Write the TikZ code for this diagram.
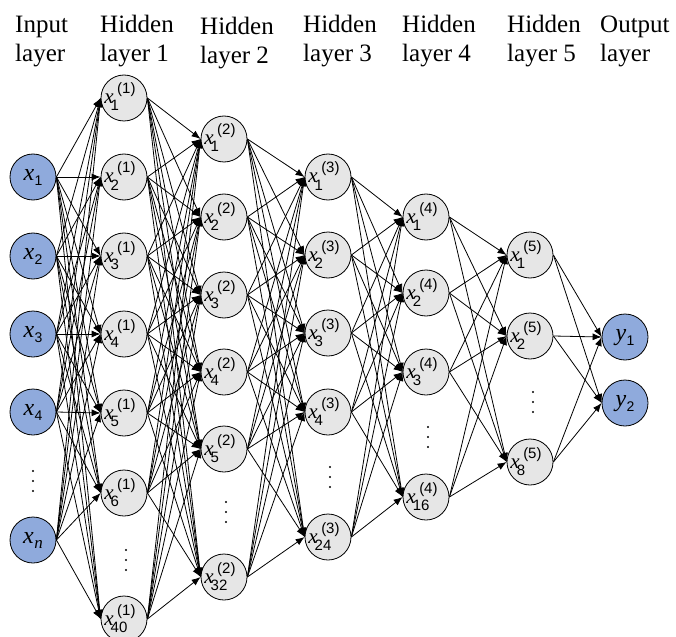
\documentclass[tikz,border=0pt]{standalone}
\usepackage{fontspec}
\setmainfont{Liberation Serif}
\setsansfont{Liberation Sans}
\usetikzlibrary{arrows.meta}
\definecolor{nblue}{RGB}{143,170,220}
\definecolor{ngray}{RGB}{230,230,230}
\newcommand\hlab[2]{\rule[-4pt]{0pt}{20pt}\textit{x}\kern-3pt\raisebox{-7pt}[0pt][0pt]{\rlap{\fontsize{15}{15}\selectfont\sffamily #2}}\kern6.5pt\raisebox{10pt}[0pt][0pt]{\fontsize{15}{15}\selectfont\sffamily (#1)}\kern8pt}
\newcommand\ilab[2]{\rule[-5pt]{0pt}{17pt}\textit{#1}\kern0.5pt\raisebox{-5pt}{\fontsize{14}{14}\selectfont\sffamily #2}}
\newcommand\vdotsat[2]{\foreach \dy in {-10,0,10} {\fill (#1,#2+\dy) circle (1.2pt);}}
\begin{document}
\begin{tikzpicture}[x=1pt,y=-1pt,
  neuron/.style={circle,draw=black,line width=0.8pt,minimum size=46pt,inner sep=0pt},
  inneuron/.style={neuron,fill=nblue,font=\fontsize{24}{24}\selectfont},
  hidneuron/.style={neuron,fill=ngray,font=\fontsize{21}{21}\selectfont},
  hdr/.style={anchor=base west,inner sep=0pt,font=\fontsize{25}{25}\selectfont},
  conn/.style={line width=0.8pt,-{Latex[length=9pt,width=7pt]}}]
\useasboundingbox (0,0) rectangle (676,636);
% headers
\node[hdr] (h0a) at (15,33) {Input};
\node[hdr] (h0b) at (15,62) {layer};
\node[hdr] (h1a) at (100,33) {Hidden};
\node[hdr] (h1b) at (100,62) {layer 1};
\node[hdr] (h2a) at (200,35) {Hidden};
\node[hdr] (h2b) at (200,64) {layer 2};
\node[hdr] (h3a) at (303,33) {Hidden};
\node[hdr] (h3b) at (303,62) {layer 3};
\node[hdr] (h4a) at (402,33) {Hidden};
\node[hdr] (h4b) at (402,62) {layer 4};
\node[hdr] (h5a) at (507,33) {Hidden};
\node[hdr] (h5b) at (507,62) {layer 5};
\node[hdr] (h6a) at (600,33) {Output};
\node[hdr] (h6b) at (600,62) {layer};
% input layer
\node[inneuron] (i1) at (33,177) {\ilab{x}{1}};
\node[inneuron] (i2) at (33,256) {\ilab{x}{2}};
\node[inneuron] (i3) at (33,334) {\ilab{x}{3}};
\node[inneuron] (i4) at (33,412) {\ilab{x}{4}};
\node[inneuron] (i5) at (33,540) {\ilab{x}{\fontsize{17}{17}\selectfont\rmfamily\itshape n}};
\vdotsat{33}{481}
% hidden layer 1
\node[hidneuron] (a1) at (124,98) {\hlab{1}{1}};
\node[hidneuron] (a2) at (124,177) {\hlab{1}{2}};
\node[hidneuron] (a3) at (124,256) {\hlab{1}{3}};
\node[hidneuron] (a4) at (124,334) {\hlab{1}{4}};
\node[hidneuron] (a5) at (124,413) {\hlab{1}{5}};
\node[hidneuron] (a6) at (124,493) {\hlab{1}{6}};
\node[hidneuron] (a7) at (124,619) {\hlab{1}{40}};
\vdotsat{126}{560}
% hidden layer 2
\node[hidneuron] (b1) at (224,139) {\hlab{2}{1}};
\node[hidneuron] (b2) at (224,217) {\hlab{2}{2}};
\node[hidneuron] (b3) at (224,295) {\hlab{2}{3}};
\node[hidneuron] (b4) at (224,372) {\hlab{2}{4}};
\node[hidneuron] (b5) at (224,449) {\hlab{2}{5}};
\node[hidneuron] (b6) at (224,577) {\hlab{2}{32}};
\vdotsat{226}{512}
% hidden layer 3
\node[hidneuron] (c1) at (328,177) {\hlab{3}{1}};
\node[hidneuron] (c2) at (328,255) {\hlab{3}{2}};
\node[hidneuron] (c3) at (328,333) {\hlab{3}{3}};
\node[hidneuron] (c4) at (328,412) {\hlab{3}{4}};
\node[hidneuron] (c5) at (328,537) {\hlab{3}{24}};
\vdotsat{330}{477}
% hidden layer 4
\node[hidneuron] (d1) at (426,217) {\hlab{4}{1}};
\node[hidneuron] (d2) at (426,293) {\hlab{4}{2}};
\node[hidneuron] (d3) at (426,372) {\hlab{4}{3}};
\node[hidneuron] (d4) at (426,497) {\hlab{4}{16}};
\vdotsat{428}{437}
% hidden layer 5
\node[hidneuron] (e1) at (530,255) {\hlab{5}{1}};
\node[hidneuron] (e2) at (530,336) {\hlab{5}{2}};
\node[hidneuron] (e3) at (530,462) {\hlab{5}{8}};
\vdotsat{533}{402}
% output layer
\node[inneuron] (o1) at (625,337) {\ilab{y}{1}};
\node[inneuron] (o2) at (625,403) {\ilab{y}{2}};
% connections
\foreach \s in {1,...,5} \foreach \t in {1,...,7} \draw[conn] (i\s.east) -- (a\t.west);
\foreach \s in {1,...,7} \foreach \t in {1,...,6} \draw[conn] (a\s.east) -- (b\t.west);
\foreach \s in {1,...,6} \foreach \t in {1,...,5} \draw[conn] (b\s.east) -- (c\t.west);
\foreach \s in {1,...,5} \foreach \t in {1,...,4} \draw[conn] (c\s.east) -- (d\t.west);
\foreach \s in {1,...,4} \foreach \t in {1,...,3} \draw[conn] (d\s.east) -- (e\t.west);
\foreach \s in {1,...,3} \foreach \t in {1,...,2} \draw[conn] (e\s.east) -- (o\t.west);
\end{tikzpicture}
\end{document}
